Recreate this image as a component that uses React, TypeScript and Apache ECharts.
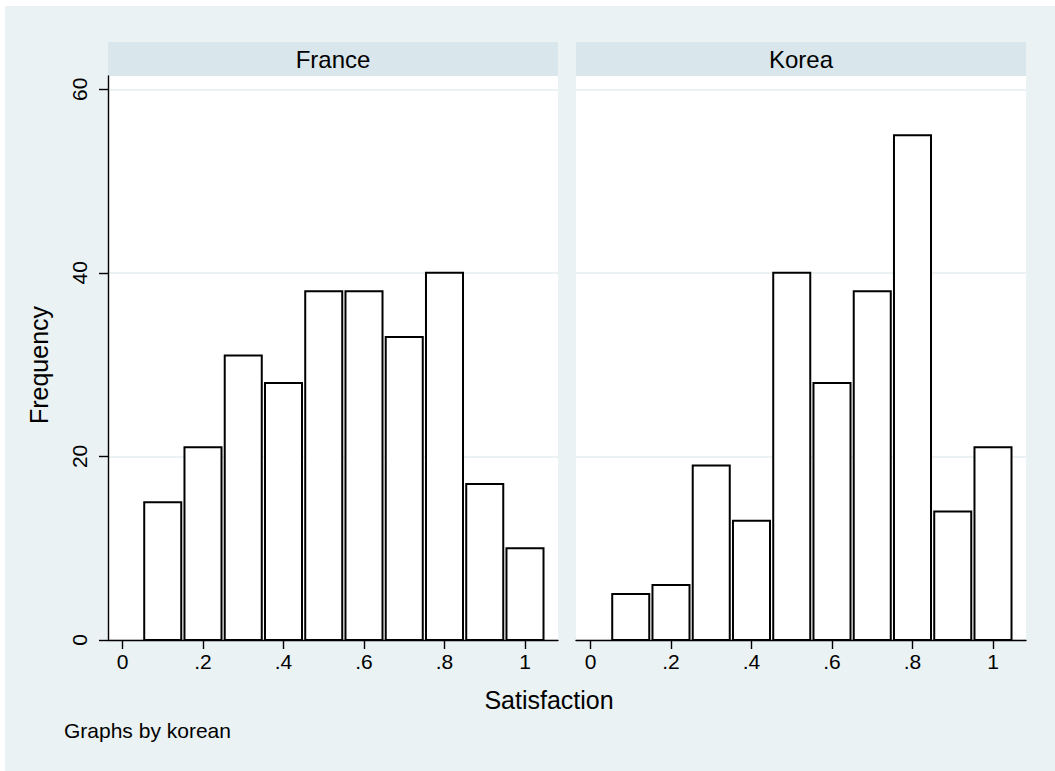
import React, { useEffect, useRef } from "react";
import * as echarts from "echarts";

// ---- data ----
const panelNames = ["France", "Korea"];
const binCenters = [0.1, 0.2, 0.3, 0.4, 0.5, 0.6, 0.7, 0.8, 0.9, 1.0];
const franceFreq = [15, 21, 31, 28, 38, 38, 33, 40, 17, 10];
const koreaFreq = [5, 6, 19, 13, 40, 28, 38, 55, 14, 21];
const xTickValues = [0, 0.2, 0.4, 0.6, 0.8, 1];
const yTickValues = [0, 20, 40, 60];
const xTitle = "Satisfaction";
const yTitle = "Frequency";
const noteText = "Graphs by korean";

const FONT = '"Liberation Sans", Arial, Helvetica, sans-serif';
const BG = "#EAF2F3";
const STRIP = "#D9E6EB";
const GRIDLINE = "#E6EEF1";
const HALF_BAR = 0.046;

const X_MIN = -0.036;
const X_MAX = 1.082;
const Y_MAX = 61.45;

const fmtX = (v: number) => {
  const r = Number(v.toFixed(1));
  if (r === 0) return "0";
  if (r === 1) return "1";
  return String(r).replace(/^0/, "");
};

export default function App() {
  const ref = useRef<HTMLDivElement>(null);

  useEffect(() => {
    if (!ref.current) return;
    const chart = echarts.init(ref.current, null, { renderer: "svg" });

    const grids = [
      { left: 103, top: 70, width: 450, height: 564 },
      { left: 571, top: 70, width: 450, height: 564 },
    ];

    const makeX = (gi: number) => ({
      type: "value",
      gridIndex: gi,
      position: "bottom",
      min: X_MIN,
      max: X_MAX,
      axisLine: { show: true, onZero: false, lineStyle: { color: "#000", width: 1.4 } },
      axisTick: {
        show: true,
        customValues: xTickValues,
        length: 9,
        lineStyle: { color: "#000", width: 1.4 },
      },
      axisLabel: {
        show: true,
        customValues: xTickValues,
        formatter: (v: number) => fmtX(v),
        fontSize: 21,
        fontFamily: FONT,
        color: "#000",
        margin: 11,
      },
      splitLine: { show: false },
      minorSplitLine: { show: false },
    });

    const makeY = (gi: number) => ({
      type: "value",
      gridIndex: gi,
      position: "left",
      min: 0,
      max: Y_MAX,
      interval: 20,
      axisLine: { show: gi === 0, onZero: false, lineStyle: { color: "#000", width: 1.4 } },
      axisTick: {
        show: gi === 0,
        customValues: yTickValues,
        length: 9,
        lineStyle: { color: "#000", width: 1.4 },
      },
      axisLabel: {
        show: gi === 0,
        customValues: yTickValues,
        rotate: 90,
        fontSize: 21,
        fontFamily: FONT,
        color: "#000",
        margin: 18,
      },
      splitLine: { show: true, lineStyle: { color: GRIDLINE, width: 1.5 } },
    });

    const renderBar = (params: any, api: any) => {
      const x = api.value(0);
      const y = api.value(1);
      const p0 = api.coord([x - HALF_BAR, y]);
      const p1 = api.coord([x + HALF_BAR, 0]);
      return {
        type: "rect",
        shape: { x: p0[0], y: p0[1], width: p1[0] - p0[0], height: p1[1] - p0[1] },
        style: { fill: "#fff", stroke: "#000", lineWidth: 2 },
      };
    };

    const seriesData = [franceFreq, koreaFreq].map((arr) =>
      binCenters.map((c, i) => [c, arr[i]])
    );

    const graphics: any[] = [];
    grids.forEach((g, i) => {
      graphics.push({
        type: "rect",
        shape: { x: g.left, y: 36, width: g.width, height: 34 },
        style: { fill: STRIP },
        silent: true,
      });
      graphics.push({
        type: "text",
        x: g.left + g.width / 2,
        y: 53,
        style: {
          text: panelNames[i],
          fontSize: 24,
          fontFamily: FONT,
          fill: "#000",
          align: "center",
          verticalAlign: "middle",
        },
      });
    });
    graphics.push({
      type: "text",
      x: 544,
      y: 694,
      style: {
        text: xTitle,
        fontSize: 25,
        fontFamily: FONT,
        fill: "#000",
        align: "center",
        verticalAlign: "middle",
      },
    });
    graphics.push({
      type: "text",
      x: 34,
      y: 359,
      rotation: Math.PI / 2,
      style: {
        text: yTitle,
        fontSize: 25,
        fontFamily: FONT,
        fill: "#000",
        align: "center",
        verticalAlign: "middle",
      },
    });
    graphics.push({
      type: "text",
      x: 59,
      y: 724,
      style: {
        text: noteText,
        fontSize: 21,
        fontFamily: FONT,
        fill: "#000",
        align: "left",
        verticalAlign: "middle",
      },
    });

    chart.setOption({
      animation: false,
      backgroundColor: BG,
      textStyle: { fontFamily: FONT },
      grid: grids.map((g) => ({
        ...g,
        show: true,
        backgroundColor: "#fff",
        borderWidth: 0,
        containLabel: false,
      })),
      xAxis: [makeX(0), makeX(1)],
      yAxis: [makeY(0), makeY(1)],
      series: seriesData.map((d, i) => ({
        type: "custom",
        name: panelNames[i],
        xAxisIndex: i,
        yAxisIndex: i,
        encode: { x: 0, y: 1 },
        renderItem: renderBar,
        data: d,
        z: 3,
      })),
      graphic: graphics,
    });

    return () => chart.dispose();
  }, []);

  return (
    <div
      ref={ref}
      style={{
        position: "absolute",
        left: 5,
        top: 6,
        width: 1050,
        height: 765,
      }}
    />
  );
}
